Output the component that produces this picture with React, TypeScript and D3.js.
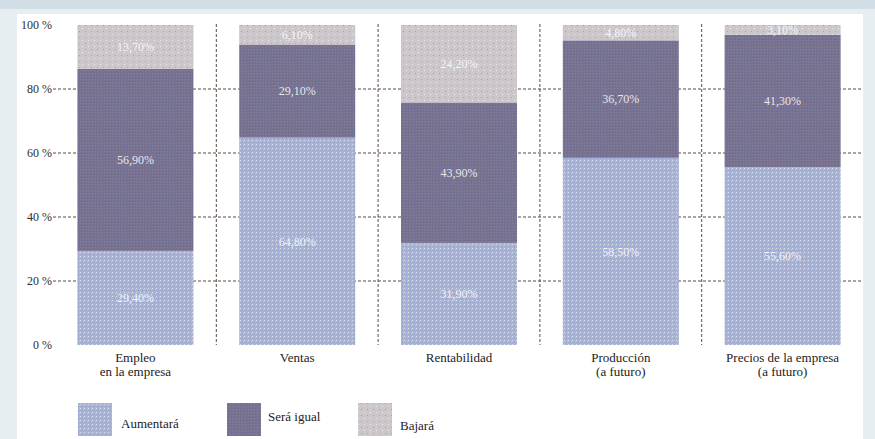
import React from "react";
import * as d3 from "d3";

// Encuesta: expectativas por ámbito (porcentaje de respuestas)
const categories = [
  ["Empleo", "en la empresa"],
  ["Ventas"],
  ["Rentabilidad"],
  ["Producción", "(a futuro)"],
  ["Precios de la empresa", "(a futuro)"],
];
const seriesNames = ["Aumentará", "Será igual", "Bajará"];
const aumentara = [29.4, 64.8, 31.9, 58.5, 55.6];
const seraIgual = [56.9, 29.1, 43.9, 36.7, 41.3];
const bajara = [13.7, 6.1, 24.2, 4.8, 3.1];
const yTicks = [0, 20, 40, 60, 80, 100];

const W = 875;
const H = 439;
const fills = ["url(#pAum)", "url(#pIgual)", "url(#pBaj)"];

const fmt = (v: number) => v.toFixed(2).replace(".", ",") + "%";

export default function App() {
  const keys = categories.map((c) => c.join(" "));
  const x = d3.scaleBand<string>().domain(keys).range([54.5, 863.5]).padding(0);
  const y = d3.scaleLinear().domain([0, 100]).range([345, 25]);
  const barW = 116;

  const rows = keys.map((k, i) => ({
    key: k,
    "Aumentará": aumentara[i],
    "Será igual": seraIgual[i],
    "Bajará": bajara[i],
  }));
  const stacked = d3.stack<any>().keys(seriesNames)(rows);

  const serif = "'Liberation Serif', 'DejaVu Serif', serif";
  const dividers = keys.slice(1).map((k) => x(k)!);

  return (
    <svg
      width={W}
      height={H}
      style={{ position: "fixed", left: 0, top: 0, display: "block" }}
      fontFamily={serif}
    >
      <defs>
        <pattern id="pAum" width="4" height="4" patternUnits="userSpaceOnUse">
          <rect width="4" height="4" fill="#a9b3d2" />
          <rect x="0" y="0" width="1" height="1" fill="#d8dcec" />
          <rect x="2" y="2" width="1" height="1" fill="#8d9bc8" />
          <rect x="3" y="1" width="1" height="1" fill="#c2c0d2" />
          <rect x="1" y="3" width="1" height="1" fill="#9cb6d8" />
        </pattern>
        <pattern id="pIgual" width="3" height="3" patternUnits="userSpaceOnUse">
          <rect width="3" height="3" fill="#78728f" />
          <rect x="0" y="0" width="1" height="1" fill="#6b6a9a" />
          <rect x="2" y="1" width="1" height="1" fill="#8c7f92" />
          <rect x="1" y="2" width="1" height="1" fill="#6f7aa0" />
        </pattern>
        <pattern id="pBaj" width="6" height="6" patternUnits="userSpaceOnUse">
          <rect width="6" height="6" fill="#cdc6cb" />
          <rect x="1" y="1" width="1" height="1" fill="#9aa0c8" />
          <rect x="4" y="4" width="1" height="1" fill="#ecebf0" />
        </pattern>
      </defs>

      {/* marco exterior */}
      <rect x={0} y={0} width={W} height={H} fill="#e7eef2" />
      <rect x={0} y={0} width={W} height={9} fill="#d2dee5" />
      <rect x={17} y={14} width={846} height={H - 14} fill="#ffffff" />

      {/* rejilla horizontal */}
      {yTicks
        .filter((t) => t > 0 && t < 100)
        .map((t) => (
          <line
            key={"g" + t}
            x1={53}
            x2={863}
            y1={y(t)}
            y2={y(t)}
            stroke="#5a4a42"
            strokeWidth={1}
            strokeDasharray="3,2"
          />
        ))}
      {/* separadores verticales */}
      {dividers.map((d, i) => (
        <line
          key={"v" + i}
          x1={d}
          x2={d}
          y1={24}
          y2={345}
          stroke="#5a4a42"
          strokeWidth={1}
          strokeDasharray="3,2"
        />
      ))}

      {/* etiquetas del eje Y */}
      {yTicks.map((t) => (
        <text
          key={"t" + t}
          x={52}
          y={y(t)}
          dy="0.35em"
          textAnchor="end"
          fontSize={12}
          fill="#2e2e2e"
        >
          {t} %
        </text>
      ))}

      {/* barras apiladas */}
      {stacked.map((s, si) =>
        s.map((d, i) => {
          const cx = x(keys[i])! + x.bandwidth() / 2;
          const y0 = y(d[0]);
          const y1 = y(d[1]);
          const val = d[1] - d[0];
          return (
            <g key={si + "-" + i}>
              <rect x={cx - barW / 2} y={y1} width={barW} height={y0 - y1} fill={fills[si]} />
              <text
                x={cx}
                y={(y0 + y1) / 2}
                dy="0.35em"
                textAnchor="middle"
                fontSize={12}
                fill="#ffffff"
                fillOpacity={0.85}
              >
                {fmt(val)}
              </text>
            </g>
          );
        })
      )}

      {/* categorías */}
      {categories.map((lines, i) => {
        const cx = x(keys[i])! + x.bandwidth() / 2;
        return (
          <text key={"c" + i} x={cx} y={362} textAnchor="middle" fontSize={13} fill="#222">
            {lines.map((l, j) => (
              <tspan key={j} x={cx} dy={j === 0 ? 0 : 14}>
                {l}
              </tspan>
            ))}
          </text>
        );
      })}

      {/* leyenda */}
      {seriesNames.map((n, i) => {
        const lx = [78, 227, 358][i];
        const tx = [121, 268, 400][i];
        const ty = [428, 421, 430][i];
        return (
          <g key={"l" + i}>
            <rect x={lx} y={403} width={34} height={33} fill={fills[i]} />
            <text x={tx} y={ty} fontSize={13} fill="#222">
              {n}
            </text>
          </g>
        );
      })}
    </svg>
  );
}
